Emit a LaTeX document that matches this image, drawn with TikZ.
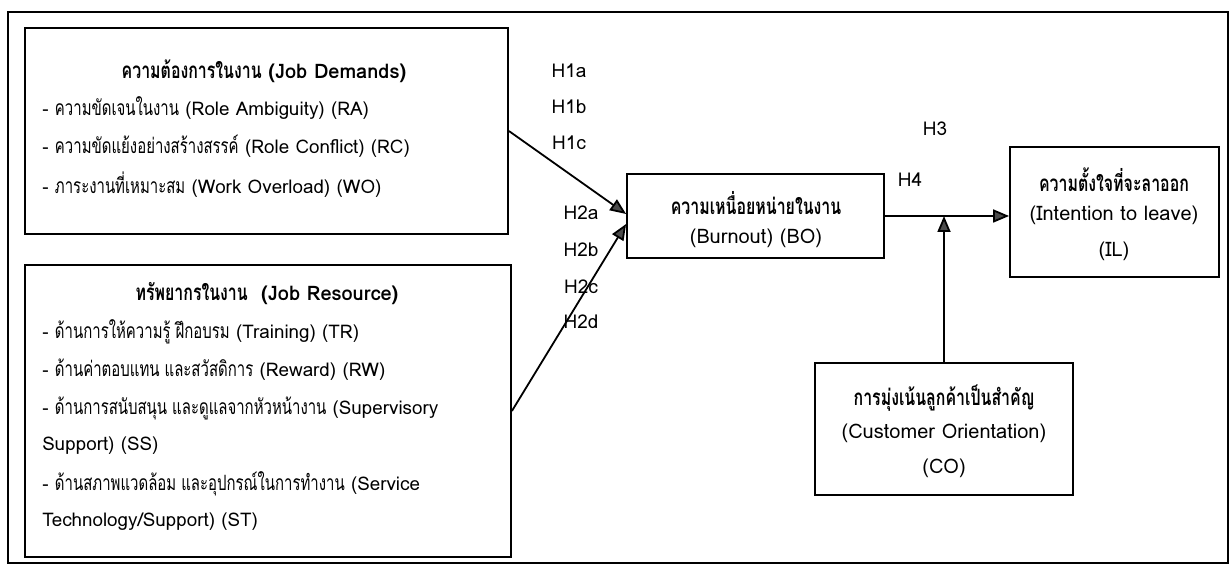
\documentclass[tikz,border=0pt]{standalone}
\usepackage{fontspec}
\setmainfont{Loma}
\newfontfamily\thaifont[Script=Thai, Scale=1.12, FakeStretch=0.71, BoldFeatures={FakeStretch=0.71}]{Loma}
\newcommand{\thx}[1]{{\thaifont #1}}
\usetikzlibrary{arrows.meta}

\begin{document}
\begin{tikzpicture}[x=0.5pt, y=-0.5pt,
  box/.style={draw, line width=0.9pt, inner sep=0pt},
  txt/.style={font=\fontsize{9.4}{12}\selectfont, inner sep=0pt},
  lbl/.style={font=\fontsize{10}{12}\selectfont, inner sep=0pt},
  ttl/.style={font=\bfseries\fontsize{10}{12}\selectfont, inner sep=0pt},
  hyp/.style={font=\fontsize{9.5}{12}\selectfont, inner sep=0pt},
  arr/.style={line width=0.9pt, -{Triangle[length=8pt, width=6.5pt, fill=black!70]}}]
\useasboundingbox (0,0) rectangle (1232,566);
%%%  nodes

% frame
\draw [line width=0.8pt] (8,12) rectangle (1228,563);

% box nodes
\node [box, minimum width=241.5pt, minimum height=103pt] (jd) at (266.5,131) {};
\node [box, minimum width=243pt, minimum height=146pt] (jr) at (268,411) {};
\node [box, minimum width=128.5pt, minimum height=42pt] (bo) at (755.5,216) {};
\node [box, minimum width=104.5pt, minimum height=65pt] (il) at (1114.5,212) {};
\node [box, minimum width=129pt, minimum height=66pt] (co) at (944,429) {};

% job demands text
\node [ttl] (jdt) at (264,71) {\thx{ความต้องการในงาน} (Job Demands)};
\node [txt, anchor=west] (ra) at (42,108) {- \thx{ความขัดเจนในงาน} (Role Ambiguity) (RA)};
\node [txt, anchor=west] (rc) at (42,146) {- \thx{ความขัดแย้งอย่างสร้างสรรค์} (Role Conflict) (RC)};
\node [txt, anchor=west] (wo) at (42,185) {- \thx{ภาระงานที่เหมาะสม} (Work Overload) (WO)};

% job resource text
\node [ttl] (jrt) at (267,294) {\thx{ทรัพยากรในงาน}\ \ (Job Resource)};
\node [txt, anchor=west] (tr) at (42,332) {- \thx{ด้านการให้ความรู้ ฝึกอบรม} (Training) (TR)};
\node [txt, anchor=west] (rw) at (42,370) {- \thx{ด้านค่าตอบแทน และสวัสดิการ} (Reward) (RW)};
\node [txt, anchor=west] (ss1) at (42,408) {- \thx{ด้านการสนับสนุน และดูแลจากหัวหน้างาน} (Supervisory};
\node [txt, anchor=west] (ss2) at (42,446) {Support) (SS)};
\node [txt, anchor=west] (st1) at (42,484) {- \thx{ด้านสภาพแวดล้อม และอุปกรณ์ในการทำงาน} (Service};
\node [txt, anchor=west] (st2) at (42,522) {Technology/Support) (ST)};

% burnout, intention, customer text
\node [ttl] (bo1) at (756,203) {\thx{ความเหนื่อยหน่ายในงาน}};
\node [lbl] (bo2) at (756,238) {(Burnout) (BO)};
\node [ttl] (il1) at (1114,180) {\thx{ความตั้งใจที่จะลาออก}};
\node [lbl] (il2) at (1114,215) {(Intention to leave)};
\node [lbl] (il3) at (1114,251) {(IL)};
\node [ttl] (co1) at (944,398) {\thx{การมุ่งเน้นลูกค้าเป็นสำคัญ}};
\node [lbl] (co2) at (944,433) {(Customer Orientation)};
\node [lbl] (co3) at (944,468) {(CO)};

% hypothesis labels
\node [hyp] (h1a) at (569,71) {H1a};
\node [hyp] (h1b) at (569,107) {H1b};
\node [hyp] (h1c) at (569,143) {H1c};
\node [hyp] (h2a) at (581,213) {H2a};
\node [hyp] (h2b) at (581,250) {H2b};
\node [hyp] (h2c) at (581,287) {H2c};
\node [hyp] (h2d) at (581,322) {H2d};
\node [hyp] (h3) at (935,129) {H3};
\node [hyp] (h4) at (910,180) {H4};

%%% edges

% job demands / job resource to burnout
\draw [arr] (jd.east) to ([yshift=1pt]bo.west);
\draw [arr] (jr.east) to ([yshift=-4pt]bo.west);

% burnout to intention
\draw [arr] (bo.east) to (bo.east -| il.west);

% customer orientation
\coordinate (m) at (co.north |- bo.east);
\draw [arr] (co.north) to (m);
\end{tikzpicture}
\end{document}
